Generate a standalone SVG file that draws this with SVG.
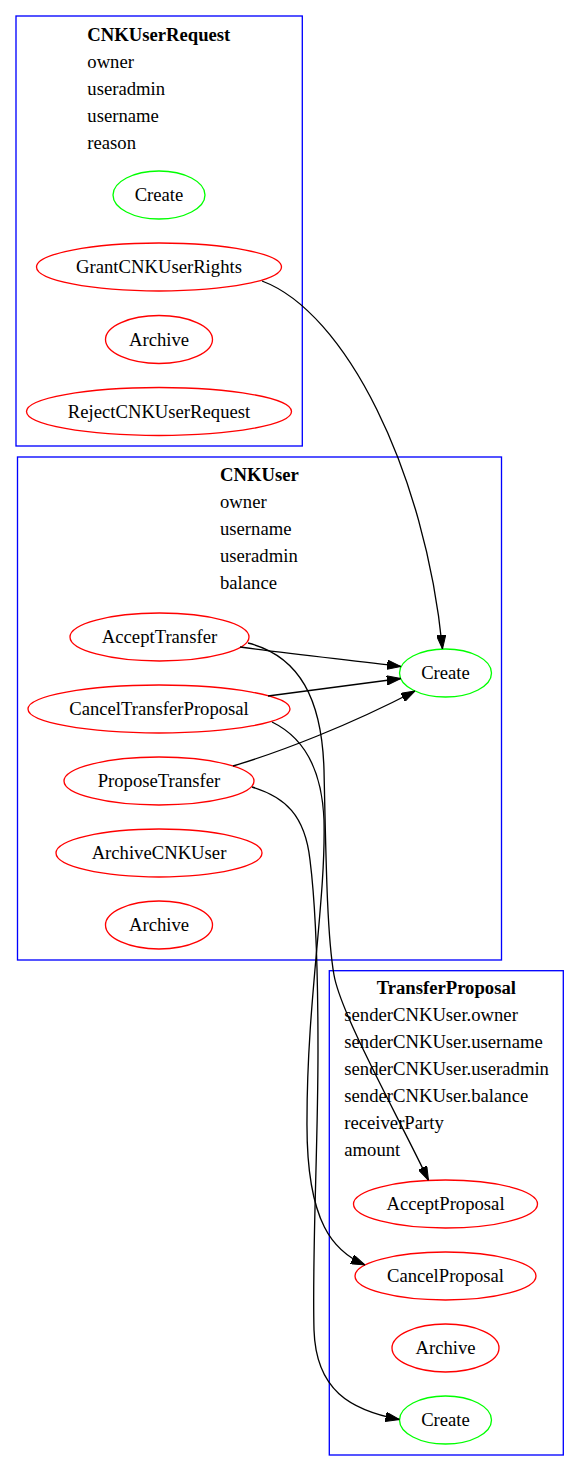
<svg xmlns="http://www.w3.org/2000/svg" width="568" height="1471" viewBox="0 0 568 1471">
<style>
  text { font-family: "Liberation Serif", "Times New Roman", serif; font-size: 18.67px; fill: #000; }
  .hdr { font-weight: bold; }
  .lbl { text-anchor: middle; }
  .cluster { fill: none; stroke: #0000ff; stroke-width: 1.33; }
  .choice { fill: none; stroke: #ff0000; stroke-width: 1.33; }
  .create { fill: none; stroke: #00ff00; stroke-width: 1.33; }
  .edge { fill: none; stroke: #000; stroke-width: 1.33; marker-end: url(#arrow); }
</style>
<defs>
  <marker id="arrow" markerUnits="userSpaceOnUse" markerWidth="14" markerHeight="9.4" refX="14" refY="4.7" orient="auto">
    <path d="M0,0 L14,4.7 L0,9.4 z" fill="#000" stroke="#000" stroke-width="1"/>
  </marker>
</defs>
<rect width="568" height="1471" fill="#fff"/>

<g id="cluster_CNKUserRequest">
  <rect class="cluster" x="16" y="16" width="286.3" height="430"/>
  <text class="hdr" x="87.3" y="40.7">CNKUserRequest</text>
  <text x="87.3" y="67.7">owner</text>
  <text x="87.3" y="94.7">useradmin</text>
  <text x="87.3" y="121.7">username</text>
  <text x="87.3" y="148.7">reason</text>
</g>
<g id="CNKUserRequest_Create">
  <ellipse class="create" cx="159" cy="195" rx="46" ry="24"/>
  <text class="lbl" x="159" y="201">Create</text>
</g>
<g id="CNKUserRequest_GrantCNKUserRights">
  <ellipse class="choice" cx="159" cy="267" rx="122.5" ry="24"/>
  <text class="lbl" x="159" y="273">GrantCNKUserRights</text>
</g>
<g id="CNKUserRequest_Archive">
  <ellipse class="choice" cx="159" cy="339.5" rx="53.5" ry="24"/>
  <text class="lbl" x="159" y="345.5">Archive</text>
</g>
<g id="CNKUserRequest_RejectCNKUserRequest">
  <ellipse class="choice" cx="159" cy="411.5" rx="132.5" ry="24"/>
  <text class="lbl" x="159" y="417.5">RejectCNKUserRequest</text>
</g>

<g id="cluster_CNKUser">
  <rect class="cluster" x="17.5" y="457" width="484" height="503"/>
  <text class="hdr" x="220" y="481">CNKUser</text>
  <text x="220" y="508">owner</text>
  <text x="220" y="535">username</text>
  <text x="220" y="562">useradmin</text>
  <text x="220" y="589">balance</text>
</g>
<g id="CNKUser_AcceptTransfer">
  <ellipse class="choice" cx="159.5" cy="637" rx="89.5" ry="24"/>
  <text class="lbl" x="159.5" y="643">AcceptTransfer</text>
</g>
<g id="CNKUser_CancelTransferProposal">
  <ellipse class="choice" cx="159" cy="709" rx="131" ry="24"/>
  <text class="lbl" x="159" y="715">CancelTransferProposal</text>
</g>
<g id="CNKUser_ProposeTransfer">
  <ellipse class="choice" cx="159" cy="781" rx="95" ry="24"/>
  <text class="lbl" x="159" y="787">ProposeTransfer</text>
</g>
<g id="CNKUser_ArchiveCNKUser">
  <ellipse class="choice" cx="159" cy="853" rx="103" ry="24"/>
  <text class="lbl" x="159" y="859">ArchiveCNKUser</text>
</g>
<g id="CNKUser_Archive">
  <ellipse class="choice" cx="159" cy="925" rx="53.5" ry="24"/>
  <text class="lbl" x="159" y="931">Archive</text>
</g>
<g id="CNKUser_Create">
  <ellipse class="create" cx="445.5" cy="673" rx="46" ry="24"/>
  <text class="lbl" x="445.5" y="679">Create</text>
</g>

<g id="cluster_TransferProposal">
  <rect class="cluster" x="329.3" y="970.7" width="234" height="484.3"/>
  <text class="hdr" x="376.7" y="994">TransferProposal</text>
  <text x="344.3" y="1021">senderCNKUser.owner</text>
  <text x="344.3" y="1048">senderCNKUser.username</text>
  <text x="344.3" y="1075">senderCNKUser.useradmin</text>
  <text x="344.3" y="1102">senderCNKUser.balance</text>
  <text x="344.3" y="1129">receiverParty</text>
  <text x="344.3" y="1156">amount</text>
</g>
<g id="TransferProposal_AcceptProposal">
  <ellipse class="choice" cx="445.5" cy="1204" rx="92" ry="24"/>
  <text class="lbl" x="445.5" y="1210">AcceptProposal</text>
</g>
<g id="TransferProposal_CancelProposal">
  <ellipse class="choice" cx="445.5" cy="1276" rx="90.5" ry="24"/>
  <text class="lbl" x="445.5" y="1282">CancelProposal</text>
</g>
<g id="TransferProposal_Archive">
  <ellipse class="choice" cx="445.5" cy="1348" rx="53.5" ry="24"/>
  <text class="lbl" x="445.5" y="1354">Archive</text>
</g>
<g id="TransferProposal_Create">
  <ellipse class="create" cx="445.5" cy="1420" rx="46" ry="24"/>
  <text class="lbl" x="445.5" y="1426">Create</text>
</g>

<g id="connectors">
  <path class="edge" d="M262,281 C345,312 425,470 442.5,649"/>
  <path class="edge" d="M240,647 C300,655 350,660 401,666.5"/>
  <path class="edge" d="M268,696 L400.8,678.5"/>
  <path class="edge" d="M233,766 C280,752 350,725 415,691"/>
  <path class="edge" d="M248,643 C300,656 322,700 324,770 C326,860 327,935 334,975 C341,1015 400,1120 428.5,1180.4"/>
  <path class="edge" d="M272,722 C305,738 322,770 324,820 C326,900 307,1000 307,1120 C306,1225 335,1252 365,1265"/>
  <path class="edge" d="M252,787 C285,797 305,815 310,860 C315,900 318,950 318,1050 C318,1150 312,1250 314,1330 C316,1390 350,1410 399.5,1419.5"/>
</g>
</svg>
